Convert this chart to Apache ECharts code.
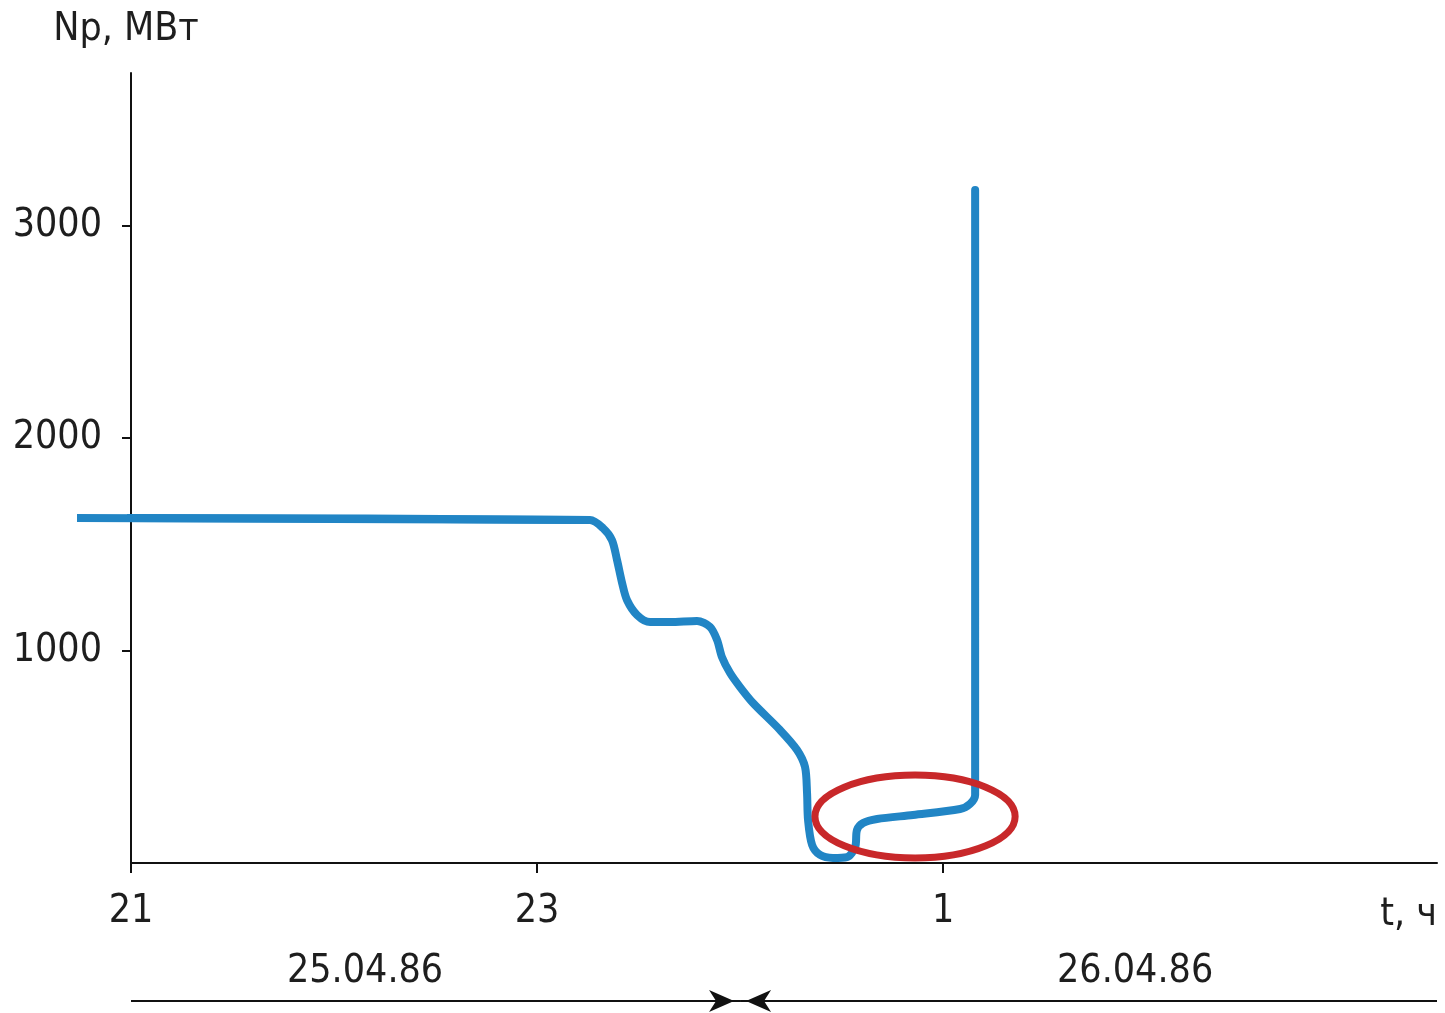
<!DOCTYPE html>
<html>
<head>
<meta charset="utf-8">
<script src="https://cdn.jsdelivr.net/npm/echarts@6/dist/echarts.min.js"></script>
<style>
html,body{margin:0;padding:0;background:#fff;}
#chart{width:1445px;height:1013px;}
</style>
</head>
<body>
<div id="chart"></div>
<script>
// Time in hours after 21:00 on 25.04.86
var timeHours = [-0.266, 2.261, 2.325, 2.369, 2.394, 2.419, 2.443, 2.493, 2.557, 2.655, 2.788, 2.852, 2.887, 2.911, 2.951, 3.000, 3.064, 3.197, 3.281, 3.320, 3.330, 3.335, 3.355, 3.394, 3.458, 3.527, 3.567, 3.576, 3.606, 3.675, 3.852, 4.084, 4.133, 4.158, 4.158];
// Reactor power, MW
var powerMW = [1624, 1614, 1576, 1520, 1426, 1318, 1238, 1167, 1134, 1134, 1139, 1111, 1049, 969, 894, 828, 753, 626, 532, 452, 329, 202, 85, 38, 24, 28, 75, 155, 188, 207, 226, 254, 278, 320, 3167];

var xTickValues = [0, 2, 4];
var xTickLabels = ['21', '23', '1'];
var yTickValues = [1000, 2000, 3000];
var xMax = 6.433;
var yMax = 3718;

// highlighted region (ellipse): center time, center power, half-width (h), half-height (MW)
var highlight = [[3.862, 219, 0.493, 195]];

// date spans on the timeline: [start, end]
var dateSpans = [[0, 3], [xMax, 3]];
var dateLabelPos = [1.153, 4.946];
var dateLabels = ['25.04.86', '26.04.86'];

var FONT = '"DejaVu Sans Condensed", "DejaVu Sans", sans-serif';
var TXT = '#1e1e1e';
var BLUE = '#2185c5';

var lineData = timeHours.map(function (t, i) { return [t, powerMW[i]]; });

var chart = echarts.init(document.getElementById('chart'), null, {renderer: 'canvas'});

chart.setOption({
  animation: false,
  backgroundColor: '#ffffff',
  grid: [
    {left: 131, right: 8, top: 73, bottom: 150},
    {left: 131, right: 8, top: 940, bottom: 12}
  ],
  xAxis: [{
    type: 'value', gridIndex: 0, min: 0, max: xMax,
    name: 't, ч', nameLocation: 'end', nameGap: 0,
    nameTextStyle: {fontFamily: FONT, fontSize: 39, color: TXT, align: 'right', verticalAlign: 'top', padding: [32, 0, 0, 0]},
    axisLine: {show: true, lineStyle: {color: '#111', width: 2}},
    axisTick: {show: true, length: 10, lineStyle: {color: '#111', width: 2}, customValues: xTickValues},
    axisLabel: {
      fontFamily: FONT, fontSize: 39, color: TXT, margin: 29,
      customValues: xTickValues,
      formatter: function (v) { var i = xTickValues.indexOf(v); return i >= 0 ? xTickLabels[i] : ''; }
    },
    splitLine: {show: false}
  }, {
    type: 'value', gridIndex: 1, min: 0, max: xMax, show: false
  }],
  yAxis: [{
    type: 'value', gridIndex: 0, min: 0, max: yMax,
    name: 'Nр, МВт', nameLocation: 'end', nameGap: 24,
    nameTextStyle: {fontFamily: FONT, fontSize: 39, color: TXT, padding: [0, 10, 0, 0]},
    axisLine: {show: true, lineStyle: {color: '#111', width: 2}},
    axisTick: {show: true, length: 9, lineStyle: {color: '#111', width: 2}, customValues: yTickValues},
    axisLabel: {fontFamily: FONT, fontSize: 39, color: TXT, margin: 29, customValues: yTickValues,
      formatter: function (v) { return String(v); }},
    splitLine: {show: false}
  }, {
    type: 'value', gridIndex: 1, min: 0, max: 1, show: false
  }],
  series: [{
    type: 'line', xAxisIndex: 0, yAxisIndex: 0,
    data: lineData, showSymbol: false, symbol: 'none',
    smooth: 0.3, clip: false,
    lineStyle: {color: BLUE, width: 8, cap: 'round', join: 'round'},
    z: 3
  }, {
    // segment of the same curve that lies left of the vertical axis (before 21:00)
    type: 'custom', xAxisIndex: 0, yAxisIndex: 0, clip: false,
    data: [0],
    renderItem: function (params, api) {
      var a = api.coord(lineData[0]);
      var b = api.coord(lineData[1]);
      return {
        type: 'line',
        shape: {x1: a[0], y1: a[1], x2: b[0], y2: b[1]},
        style: {stroke: BLUE, lineWidth: 8, lineCap: 'butt'}
      };
    },
    z: 3
  }, {
    type: 'custom', xAxisIndex: 0, yAxisIndex: 0, clip: false,
    data: highlight,
    renderItem: function (params, api) {
      var c = api.coord([api.value(0), api.value(1)]);
      var s = api.size([api.value(2), api.value(3)]);
      return {
        type: 'ellipse',
        shape: {cx: c[0], cy: c[1], rx: s[0], ry: s[1]},
        style: {fill: 'none', stroke: '#c8282a', lineWidth: 7}
      };
    },
    z: 4
  }, {
    type: 'custom', xAxisIndex: 1, yAxisIndex: 1, clip: false,
    data: dateSpans,
    renderItem: function (params, api) {
      var p0 = api.coord([api.value(0), 0]);
      var p1 = api.coord([api.value(1), 0]);
      var dir = p1[0] > p0[0] ? 1 : -1;
      var L = 25, H = 11, notch = 7;
      var tip = p1[0] - dir * 6;
      return {
        type: 'group',
        children: [{
          type: 'line',
          shape: {x1: p0[0], y1: p0[1], x2: p1[0], y2: p1[1]},
          style: {stroke: '#111', lineWidth: 2}
        }, {
          type: 'polygon',
          shape: {points: [
            [tip, p1[1]],
            [tip - dir * L, p1[1] - H],
            [tip - dir * (L - notch), p1[1]],
            [tip - dir * L, p1[1] + H]
          ]},
          style: {fill: '#111'}
        }]
      };
    }
  }, {
    type: 'custom', xAxisIndex: 1, yAxisIndex: 1, clip: false,
    data: dateLabelPos.map(function (x, i) { return [x, 0.47, i]; }),
    renderItem: function (params, api) {
      var p = api.coord([api.value(0), api.value(1)]);
      return {
        type: 'text',
        x: p[0], y: p[1],
        style: {
          text: dateLabels[api.value(2)],
          fontFamily: FONT, fontSize: 39, fill: TXT,
          align: 'center', verticalAlign: 'middle'
        }
      };
    }
  }]
});
</script>
</body>
</html>
